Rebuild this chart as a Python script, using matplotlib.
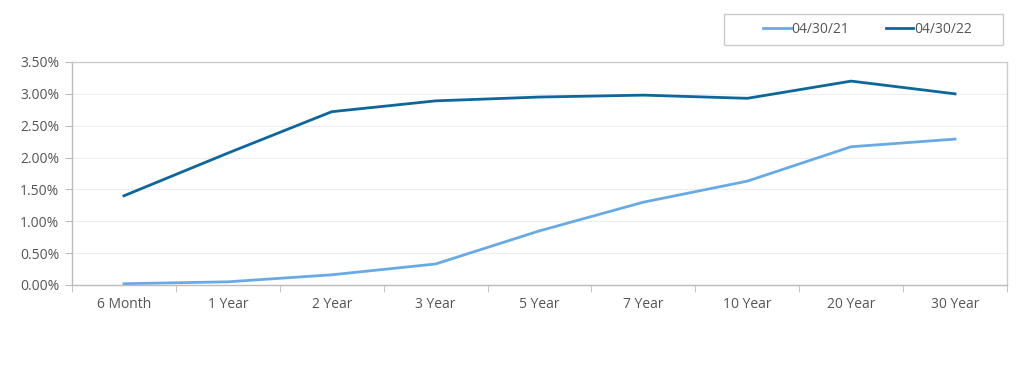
import matplotlib
matplotlib.use("Agg")
import matplotlib.pyplot as plt
from matplotlib.ticker import FuncFormatter, MultipleLocator
from matplotlib.patches import Rectangle
import numpy as np

categories = ["6 Month", "1 Year", "2 Year", "3 Year", "5 Year", "7 Year", "10 Year", "20 Year", "30 Year"]
series_2021 = [0.02, 0.05, 0.16, 0.33, 0.85, 1.30, 1.63, 2.17, 2.29]
series_2022 = [1.40, 2.07, 2.72, 2.89, 2.95, 2.98, 2.93, 3.20, 3.00]
labels = ["04/30/21", "04/30/22"]

plt.rcParams['font.family'] = ['Open Sans', 'DejaVu Sans']
text_color = "#555555"

fig = plt.figure(figsize=(10.24, 3.71), dpi=100)
ax = fig.add_axes([72/1024, 1-285/371, (1007-72)/1024, (285-62)/371])

x = np.arange(len(categories))
ax.plot(x, series_2021, color="#6aaae4", lw=2, label=labels[0])
ax.plot(x, series_2022, color="#0e6699", lw=2, label=labels[1])

ax.set_xlim(-0.5, len(categories) - 0.5)
ax.set_ylim(0, 3.5)
ax.yaxis.set_major_locator(MultipleLocator(0.5))
ax.yaxis.set_major_formatter(FuncFormatter(lambda v, p: f"{v:.2f}%"))
ax.set_xticks(x)
ax.set_xticklabels(categories)
ax.set_xticks(np.arange(-0.5, len(categories), 1), minor=True)
ax.tick_params(axis='x', which='major', length=0, pad=9, labelsize=10, labelcolor=text_color)
ax.tick_params(axis='x', which='minor', length=5, color="#bbbbbb", direction='out')
ax.tick_params(axis='y', which='major', length=5, color="#bbbbbb", labelsize=10, labelcolor=text_color, pad=4)

ax.grid(axis='y', color="#eeeeee", lw=0.8)
ax.set_axisbelow(True)
for s in ax.spines.values():
    s.set_color("#cccccc")
    s.set_linewidth(1.0)
ax.spines['left'].set_color("#bbbbbb")
ax.spines['bottom'].set_color("#bbbbbb")

# legend box
bx0, by0, bx1, by1 = 724, 14, 1003, 45
fig.patches.append(Rectangle((bx0/1024, 1-by1/371), (bx1-bx0)/1024, (by1-by0)/371,
                             transform=fig.transFigure, fill=False, edgecolor="#cccccc", lw=1.0))
leg = fig.legend(loc='center', bbox_to_anchor=((bx0+bx1)/2/1024 + 4/1024, 1-(by0+by1)/2/371),
                 ncol=2, frameon=False, fontsize=10,
                 handlelength=2.0, handletextpad=0.05, columnspacing=2.6, borderpad=0)
for t in leg.get_texts():
    t.set_color(text_color)

fig.savefig("out.png", dpi=100)
